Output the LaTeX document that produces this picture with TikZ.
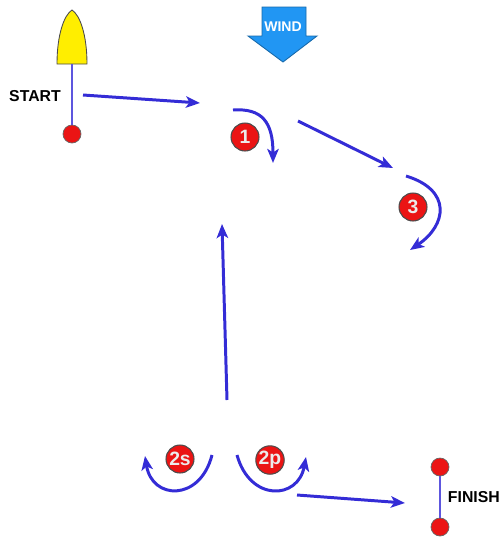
\documentclass[tikz,border=0pt]{standalone}
\usepackage{fontspec}
\setmainfont{Liberation Sans}
\usepackage{xcolor}
\usepackage{tikz}
\usetikzlibrary{arrows.meta,positioning,calc}

\definecolor{course}{RGB}{52,44,214}
\definecolor{mark}{RGB}{235,20,20}
\definecolor{boat}{RGB}{255,238,0}
\definecolor{windblue}{RGB}{33,150,243}

\begin{document}
\begin{tikzpicture}[x=0.02cm,y=-0.02cm,
        leg/.style={course, line width=1.7pt, -{Stealth[length=8pt,width=6.5pt,inset=2pt]}},
        buoy/.style={circle, fill=mark, draw=black!70, line width=0.6pt, minimum size=0.56cm, inner sep=0pt,
            text=gray!15, font=\bfseries\fontsize{11}{11}\selectfont},
        pin/.style={circle, fill=mark, draw=black!60, line width=0.4pt, minimum size=0.36cm, inner sep=0pt},
        label/.style={font=\bfseries\fontsize{9}{10}\selectfont}]
        \useasboundingbox (0,0) rectangle (503,538);

        % wind
        \draw[fill=windblue, draw=windblue!70!black, line width=0.5pt]
            (262,7) -- (306,7) -- (306,36) -- (317,36) -- (283,62) -- (248,36) -- (262,36) -- cycle;
        \node[text=white, font=\bfseries\fontsize{8}{8}\selectfont] (wind) at (283,27) {WIND};

        % start line
        \draw[fill=boat, draw=black!70, line width=0.5pt]
            (57,64) .. controls (57,35) and (64,15) .. (72,10) .. controls (80,15) and (87,35) .. (87,64) -- cycle;
        \coordinate (boat) at (72,64);
        \node[pin] (sp) at (72,134) {};
        \draw[course!80, line width=0.6pt] (boat) -- (sp);
        \node[label] (start) at (35,96) {START};

        % finish line
        \node[pin] (f1) at (440,467) {};
        \node[pin] (f2) at (440,527) {};
        \draw[course!80, line width=0.6pt] (f1) -- (f2);
        \node[label, right=1pt of $(f1)!0.5!(f2)$] (finish) {FINISH};

        % marks
        \node[buoy] (m1) at (245,137) {1};
        \node[buoy] (m3) at (413,207) {3};
        \node[buoy] (m2s) at (180,459) {2s};
        \node[buoy] (m2p) at (270,460) {2p};

        % legs
        \coordinate (a0) at (83,95);   \coordinate (a1) at (200,103);
        \coordinate (b0) at (298,121); \coordinate (b1) at (393,168);
        \coordinate (c0) at (227,400); \coordinate (c1) at (222,224);
        \coordinate (d0) at (297,495); \coordinate (d1) at (405,503);
        \draw[leg] (a0) -- (a1);
        \draw[leg] (b0) -- (b1);
        \draw[leg] (c0) -- (c1);
        \draw[leg] (d0) -- (d1);

        % roundings
        \draw[leg] (233,110) .. controls (262,108) and (273,122) .. (273,163); % 1
        \draw[leg] (406,176) .. controls (452,190) and (447,225) .. (410,250); % 3
        \draw[leg] (212,455) .. controls (200,502) and (152,500) .. (145,456); % 2s
        \draw[leg] (237,455) .. controls (250,502) and (298,500) .. (306,457); % 2p
    \end{tikzpicture}
\end{document}
